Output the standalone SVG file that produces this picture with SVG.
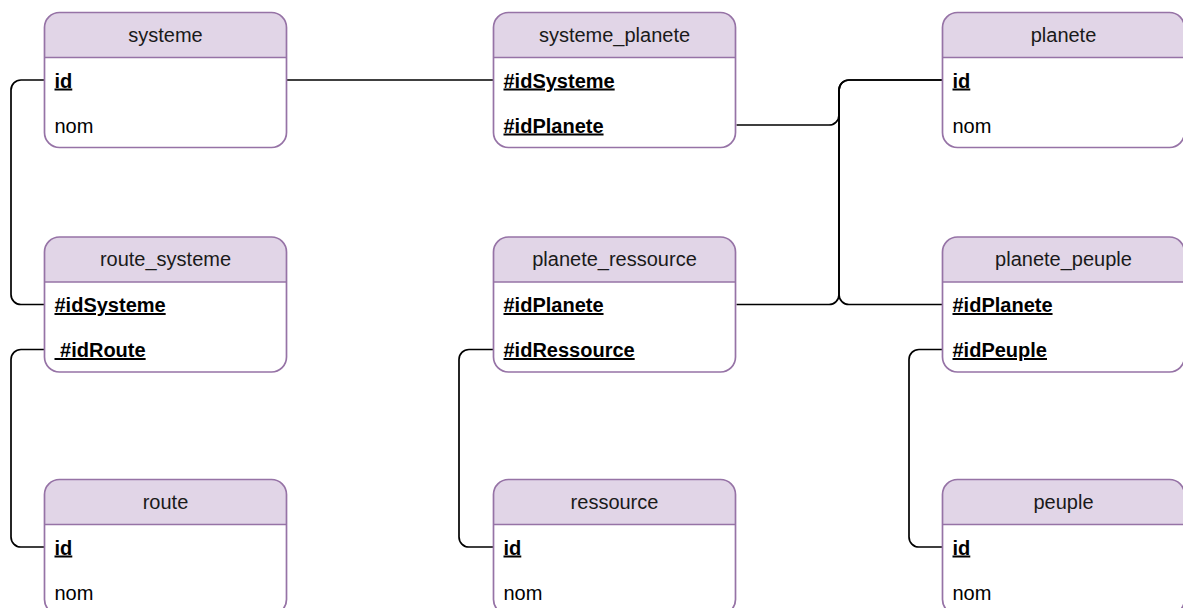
<svg xmlns="http://www.w3.org/2000/svg" width="1183" height="608" viewBox="0 0 1183 608">
<style>
.bg{fill:#ffffff;stroke:none}
.hd{fill:#e1d5e7;stroke:none}
.bd{fill:none;stroke:#9673a6;stroke-width:1.7}
.t{font-family:"Liberation Sans",Arial,sans-serif;font-size:20px;fill:#000}
.h{text-anchor:middle;fill:#1a1a1a}
.k{font-weight:bold;text-decoration:underline}
.c{fill:none;stroke:#000;stroke-width:1.7}
</style>
<defs>
<g id="tbl">
<rect class="bg" x="0" y="0" width="242" height="135" rx="15"/>
<path class="hd" d="M0,45 V15 A15,15 0 0 1 15,0 H227 A15,15 0 0 1 242,15 V45 Z"/>
<rect class="bd" x="0" y="0" width="242" height="135" rx="15"/>
<line class="bd" x1="0" y1="45" x2="242" y2="45"/>
</g>
</defs>
<g id="connectors">
<path class="c" d="M44.5,80 H21 A10,10 0 0 0 11,90 V294.5 A10,10 0 0 0 21,304.5 H44.5"/>
<path class="c" d="M286.5,80 H493.5"/>
<path class="c" d="M736.5,125 H829 A10,10 0 0 0 839,115 V90 A10,10 0 0 1 849,80 H942.5"/>
<path class="c" d="M736.5,304.5 H829 A10,10 0 0 0 839,294.5 V90 A10,10 0 0 1 849,80 H942.5"/>
<path class="c" d="M942.5,304.5 H849 A10,10 0 0 1 839,294.5 V90"/>
<path class="c" d="M44.5,349.5 H21 A10,10 0 0 0 11,359.5 V537 A10,10 0 0 0 21,547 H44.5"/>
<path class="c" d="M493.5,349.5 H469 A10,10 0 0 0 459,359.5 V537 A10,10 0 0 0 469,547 H493.5"/>
<path class="c" d="M942.5,349.5 H919 A10,10 0 0 0 909,359.5 V537 A10,10 0 0 0 919,547 H942.5"/>
</g>
<g id="systeme" transform="translate(44.5,12.5)">
<use href="#tbl"/>
<text class="t h" x="121" y="29">systeme</text>
<text class="t k" x="10" y="75">id</text>
<text class="t" x="10" y="120">nom</text>
</g>
<g id="systeme_planete" transform="translate(493.5,12.5)">
<use href="#tbl"/>
<text class="t h" x="121" y="29">systeme_planete</text>
<text class="t k" x="10" y="75">#idSysteme</text>
<text class="t k" x="10" y="120">#idPlanete</text>
</g>
<g id="planete" transform="translate(942.5,12.5)">
<use href="#tbl"/>
<text class="t h" x="121" y="29">planete</text>
<text class="t k" x="10" y="75">id</text>
<text class="t" x="10" y="120">nom</text>
</g>
<g id="route_systeme" transform="translate(44.5,237)">
<use href="#tbl"/>
<text class="t h" x="121" y="29">route_systeme</text>
<text class="t k" x="10" y="75">#idSysteme</text>
<text class="t k" x="10" y="120" xml:space="preserve"> #idRoute</text>
</g>
<g id="planete_ressource" transform="translate(493.5,237)">
<use href="#tbl"/>
<text class="t h" x="121" y="29">planete_ressource</text>
<text class="t k" x="10" y="75">#idPlanete</text>
<text class="t k" x="10" y="120">#idRessource</text>
</g>
<g id="planete_peuple" transform="translate(942.5,237)">
<use href="#tbl"/>
<text class="t h" x="121" y="29">planete_peuple</text>
<text class="t k" x="10" y="75">#idPlanete</text>
<text class="t k" x="10" y="120">#idPeuple</text>
</g>
<g id="route" transform="translate(44.5,479.5)">
<use href="#tbl"/>
<text class="t h" x="121" y="29">route</text>
<text class="t k" x="10" y="75">id</text>
<text class="t" x="10" y="120">nom</text>
</g>
<g id="ressource" transform="translate(493.5,479.5)">
<use href="#tbl"/>
<text class="t h" x="121" y="29">ressource</text>
<text class="t k" x="10" y="75">id</text>
<text class="t" x="10" y="120">nom</text>
</g>
<g id="peuple" transform="translate(942.5,479.5)">
<use href="#tbl"/>
<text class="t h" x="121" y="29">peuple</text>
<text class="t k" x="10" y="75">id</text>
<text class="t" x="10" y="120">nom</text>
</g>
</svg>
